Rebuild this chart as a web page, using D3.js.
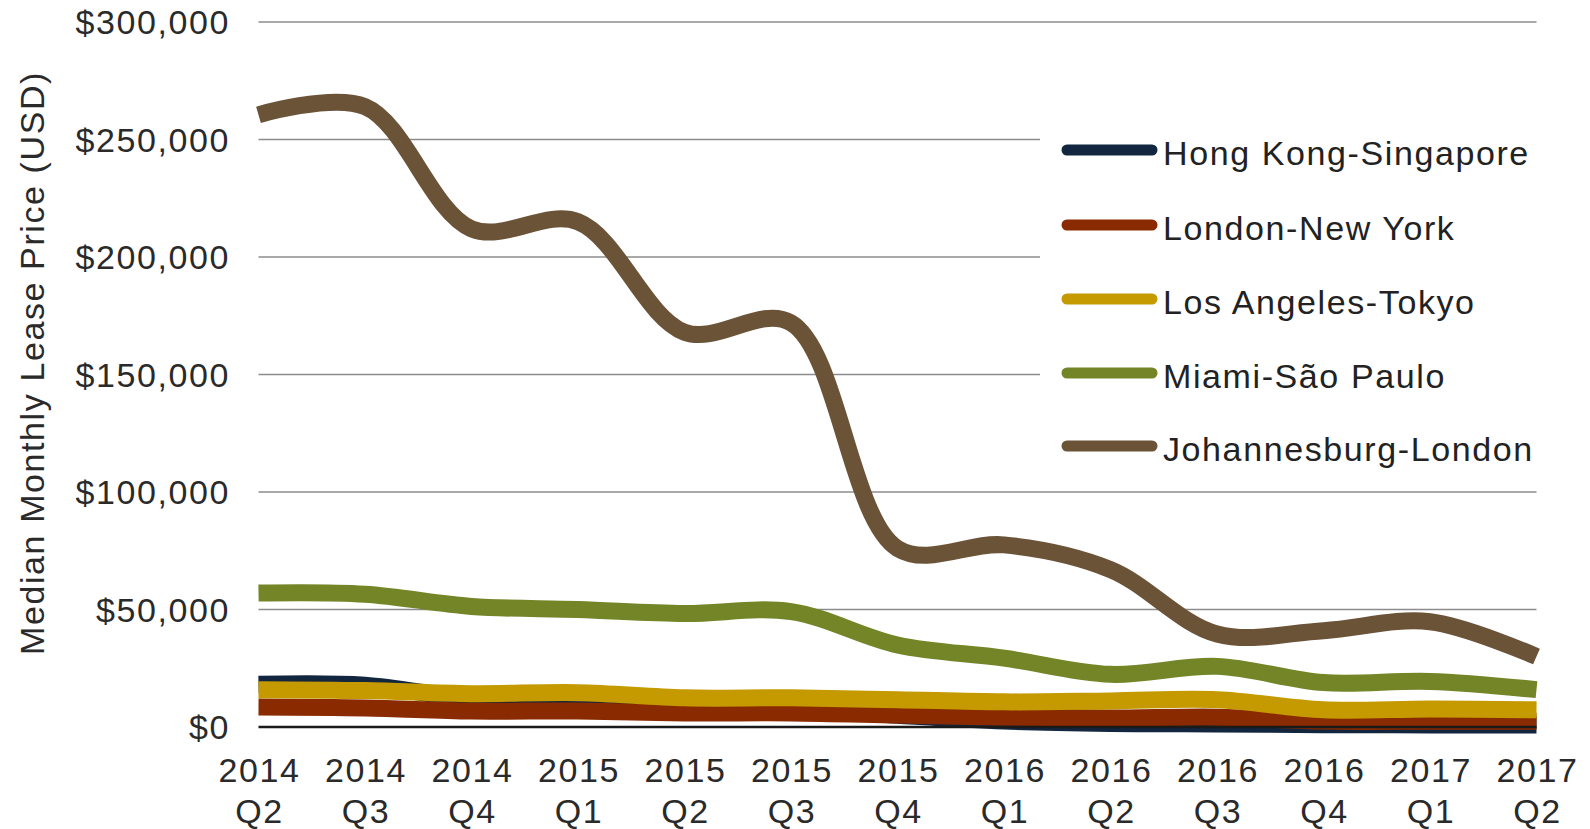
<!DOCTYPE html>
<html>
<head>
  <meta charset="utf-8" />
  <title>Median monthly lease price by route</title>
  <script src="https://cdn.jsdelivr.net/npm/d3@7"></script>
  <style>
    body { margin: 0; background: #fff; }
    text { font-family: "Liberation Sans", Arial, sans-serif; letter-spacing: 1.6px; }
  </style>
</head>
<body>
  <div id="chart"></div>
  <script>
    // quarters on the x axis
    var years = ["2014", "2014", "2014", "2015", "2015", "2015", "2015", "2016", "2016", "2016", "2016", "2017", "2017"];
    var quarters = ["Q2", "Q3", "Q4", "Q1", "Q2", "Q3", "Q4", "Q1", "Q2", "Q3", "Q4", "Q1", "Q2"];

    var seriesNames = ["Hong Kong-Singapore", "London-New York", "Los Angeles-Tokyo", "Miami-São Paulo", "Johannesburg-London"];
    var seriesColors = ["#13263f", "#8a2a00", "#c49a00", "#738527", "#6b5338"];

    var hongKong = [18200, 17800, 12000, 11500, 9000, 8000, 5000, 2500, 1500, 1300, 1000, 900, 800];
    var londonNY = [8500, 8100, 6800, 6800, 6000, 6000, 5100, 4200, 3800, 4200, 2500, 2500, 2500];
    var laTokyo = [15900, 15500, 14200, 14600, 12400, 12400, 11600, 10700, 11100, 11600, 7300, 7700, 7300];
    var miami = [57000, 56500, 51300, 50000, 48300, 49100, 34900, 29300, 22400, 25800, 18900, 19400, 15900];
    var joburg = [260500, 264000, 212000, 215000, 168000, 172000, 76000, 77500, 67000, 39600, 41000, 44800, 30000];

    var yTicks = [0, 50000, 100000, 150000, 200000, 250000, 300000];

    var allSeries = [hongKong, londonNY, laTokyo, miami, joburg];

    var width = 1590, height = 829;
    var svg = d3.select("#chart").append("svg")
      .attr("width", width)
      .attr("height", height);

    var x = d3.scaleLinear().domain([0, quarters.length - 1]).range([258.5, 1536.5]);
    var y = d3.scaleLinear().domain([0, 300000]).range([727, 22]);

    /* gridlines */
    svg.append("g").selectAll("line")
      .data(yTicks.filter(function (d) { return d > 0; }))
      .enter().append("line")
      .attr("x1", 258.5).attr("x2", 1536.5)
      .attr("y1", function (d) { return y(d); })
      .attr("y2", function (d) { return y(d); })
      .style("stroke", "#8c8c8c")
      .style("stroke-width", 1.6);

    /* y tick labels */
    var fmt = d3.format(",");
    svg.append("g").selectAll("text")
      .data(yTicks)
      .enter().append("text")
      .attr("x", 230)
      .attr("y", function (d) { return y(d); })
      .attr("dy", "0.36em")
      .attr("text-anchor", "end")
      .style("font-size", "34px")
      .style("fill", "#2a2a2a")
      .text(function (d) { return "$" + fmt(d); });

    /* y axis title */
    svg.append("text")
      .attr("transform", "translate(44,363) rotate(-90)")
      .attr("text-anchor", "middle")
      .style("font-size", "34px")
      .style("fill", "#2a2a2a")
      .text("Median Monthly Lease Price (USD)");

    /* x labels */
    var xl = svg.append("g").selectAll("g")
      .data(quarters)
      .enter().append("g");
    xl.append("text")
      .attr("x", function (d, i) { return x(i) + 1; })
      .attr("y", 782)
      .attr("text-anchor", "middle")
      .style("font-size", "34px")
      .style("fill", "#2a2a2a")
      .text(function (d, i) { return years[i]; });
    xl.append("text")
      .attr("x", function (d, i) { return x(i) + 1; })
      .attr("y", 823)
      .attr("text-anchor", "middle")
      .style("font-size", "34px")
      .style("fill", "#2a2a2a")
      .text(function (d) { return d; });

    /* legend background */
    svg.append("rect")
      .attr("x", 1040).attr("y", 100)
      .attr("width", 520).attr("height", 375)
      .style("fill", "#fff");

    /* lines */
    var line = d3.line()
      .x(function (d, i) { return x(i); })
      .y(function (d) { return y(d); })
      .curve(d3.curveCatmullRom.alpha(0.5));

    svg.append("g").selectAll("path")
      .data(allSeries)
      .enter().append("path")
      .attr("d", line)
      .style("fill", "none")
      .style("stroke", function (d, i) { return seriesColors[i]; })
      .style("stroke-width", 17)
      .style("stroke-linejoin", "round");

    /* baseline */
    svg.append("line")
      .attr("x1", 258.5).attr("x2", 1536.5)
      .attr("y1", y(0)).attr("y2", y(0))
      .style("stroke", "#1a1a1a")
      .style("stroke-width", 2.5);

    /* legend */
    var legendY = [150, 225, 299, 373, 446];
    var lg = svg.append("g").selectAll("g")
      .data(seriesNames)
      .enter().append("g");
    lg.append("line")
      .attr("x1", 1067).attr("x2", 1152)
      .attr("y1", function (d, i) { return legendY[i]; })
      .attr("y2", function (d, i) { return legendY[i]; })
      .style("stroke", function (d, i) { return seriesColors[i]; })
      .style("stroke-width", 11)
      .style("stroke-linecap", "round");
    lg.append("text")
      .attr("x", 1163)
      .attr("y", function (d, i) { return legendY[i] + 15; })
      .style("font-size", "34px")
      .style("fill", "#222")
      .text(function (d) { return d; });
  </script>
</body>
</html>
